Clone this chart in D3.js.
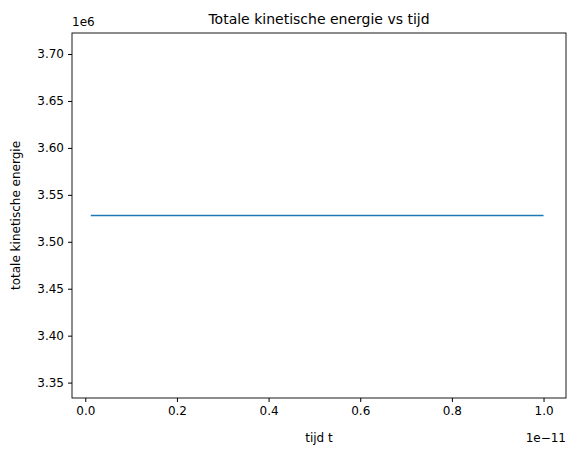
<!DOCTYPE html>
<html><head><meta charset="utf-8">
<script src="https://cdn.jsdelivr.net/npm/d3@7"></script>
<style>body{margin:0;background:#fff}text{font-family:"DejaVu Sans",sans-serif;fill:#000}</style>
</head><body><svg id="c" width="576" height="455"></svg>
<script>
// time in units of 1e-11 s, energy in units of 1e6
var tijd = [0.012, 0.1, 0.2, 0.3, 0.4, 0.5, 0.6, 0.7, 0.8, 0.9, 1.0];
var energie = [3.528, 3.528, 3.528, 3.528, 3.528, 3.528, 3.528, 3.528, 3.528, 3.528, 3.528];
var xTicks = [0.0, 0.2, 0.4, 0.6, 0.8, 1.0];
var yTicks = [3.35, 3.40, 3.45, 3.50, 3.55, 3.60, 3.65, 3.70];

var L = 72, R = 566, T = 33, B = 398;
var svg = d3.select('#c');
var x = d3.scaleLinear().domain([-0.029, 1.049]).range([L, R]);
var y = d3.scaleLinear().domain([3.3336, 3.7224]).range([B, T]);

svg.append('g').attr('transform', 'translate(0,' + B + ')')
  .call(d3.axisBottom(x).tickValues(xTicks).tickFormat(d3.format('.1f')).tickSize(4).tickPadding(4))
  .call(function(g){ g.select('.domain').remove(); g.selectAll('text').attr('font-size', 12); });
svg.append('g').attr('transform', 'translate(' + L + ',0)')
  .call(d3.axisLeft(y).tickValues(yTicks).tickFormat(d3.format('.2f')).tickSize(4).tickPadding(4))
  .call(function(g){ g.select('.domain').remove(); g.selectAll('text').attr('font-size', 12); });

svg.append('path').datum(d3.range(tijd.length))
  .attr('fill', 'none').attr('stroke', '#1f77b4').attr('stroke-width', 1.6)
  .attr('d', d3.line().x(function(i){ return x(tijd[i]); }).y(function(i){ return y(energie[i]); }));

svg.append('rect').attr('x', L).attr('y', T).attr('width', R - L).attr('height', B - T)
  .attr('fill', 'none').attr('stroke', '#000').attr('stroke-width', 0.9);

svg.append('text').attr('x', (L + R) / 2).attr('y', 24).attr('text-anchor', 'middle')
  .attr('font-size', 14).text('Totale kinetische energie vs tijd');
svg.append('text').attr('x', (L + R) / 2).attr('y', 442).attr('text-anchor', 'middle')
  .attr('font-size', 12).text('tijd t');
svg.append('text').attr('transform', 'translate(20,' + (T + B) / 2 + ') rotate(-90)')
  .attr('text-anchor', 'middle').attr('font-size', 12).text('totale kinetische energie');
svg.append('text').attr('x', L).attr('y', 26).attr('font-size', 12).text('1e6');
svg.append('text').attr('x', R).attr('y', 442).attr('text-anchor', 'end')
  .attr('font-size', 12).text('1e\u221211');
</script></body></html>
